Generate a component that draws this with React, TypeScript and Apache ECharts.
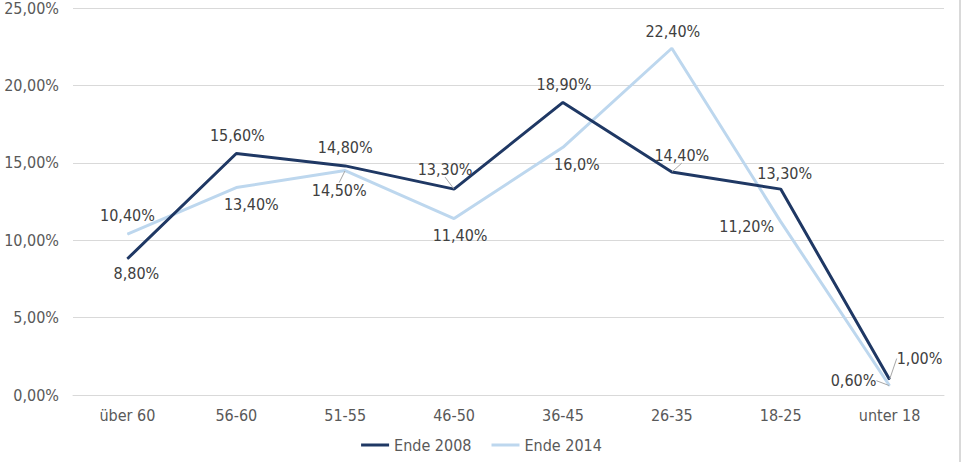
import React, { useEffect, useRef } from "react";
import * as echarts from "echarts";

const categories = ["über 60", "56-60", "51-55", "46-50", "36-45", "26-35", "18-25", "unter 18"];
const values2008 = [8.8, 15.6, 14.8, 13.3, 18.9, 14.4, 13.3, 1.0];
const values2014 = [10.4, 13.4, 14.5, 11.4, 16.0, 22.4, 11.2, 0.6];
const labels2008 = ["8,80%", "15,60%", "14,80%", "13,30%", "18,90%", "14,40%", "13,30%", "1,00%"];
const labels2014 = ["10,40%", "13,40%", "14,50%", "11,40%", "16,0%", "22,40%", "11,20%", "0,60%"];
const yTicks = [0, 5, 10, 15, 20, 25];

// label offsets (dx, dy) relative to the point
const off2008 = [[9, 15], [1, -18], [0, -18], [-9, -20], [1, -18], [10, -17], [4, -16], [30, -21]];
const off2014 = [[0, -19], [15, 17], [-6, 20], [6, 17], [14, 17], [1, -17], [-34, 5], [-36, -5]];
const lead2008 = [false, false, false, true, false, true, false, true];
const lead2014 = [false, false, true, false, false, false, false, true];

const FONT = "DejaVu Sans Condensed";

export default function App() {
  const ref = useRef<HTMLDivElement>(null);
  useEffect(() => {
    document.body.style.margin = "0";
    const chart = echarts.init(ref.current!, undefined, { renderer: "svg" });
    const mk = (vals: number[], labs: string[], leads: boolean[]) =>
      vals.map((v, i) => ({
        value: v,
        label: { formatter: labs[i] },
        labelLine: { show: leads[i], lineStyle: { color: "#a6a6a6", width: 1 } },
      }));
    chart.setOption({
      animation: false,
      textStyle: { fontFamily: FONT },
      grid: { left: 73, right: 19, top: 8, bottom: 67 },
      legend: {
        bottom: 4,
        left: "center",
        itemWidth: 28,
        itemHeight: 3,
        itemGap: 20,
        icon: "rect",
        textStyle: { fontFamily: FONT, fontSize: 16, color: "#595959" },
        data: ["Ende 2008", "Ende 2014"],
      },
      xAxis: {
        type: "category",
        data: categories,
        boundaryGap: true,
        axisLine: { show: true, lineStyle: { color: "#d9d9d9", width: 1 } },
        axisTick: { show: false },
        axisLabel: { fontFamily: FONT, fontSize: 16, color: "#595959", margin: 12 },
      },
      yAxis: {
        type: "value",
        min: yTicks[0],
        max: yTicks[yTicks.length - 1],
        interval: 5,
        axisLine: { show: false },
        axisTick: { show: false },
        splitLine: { lineStyle: { color: "#d9d9d9", width: 1 } },
        axisLabel: {
          fontFamily: FONT,
          fontSize: 16,
          color: "#595959",
          margin: 14,
          formatter: (v: number) => v.toFixed(2).replace(".", ",") + "%",
        },
      },
      series: [
        {
          name: "Ende 2008",
          type: "line",
          data: mk(values2008, labels2008, lead2008),
          symbol: "circle",
          symbolSize: 1,
          showSymbol: true,
          lineStyle: { color: "#1f3864", width: 3 },
          itemStyle: { color: "#1f3864" },
          label: { show: true, position: "inside", fontFamily: FONT, fontSize: 16, color: "#404040" },
          labelLayout: (p: any) => ({ dx: off2008[p.dataIndex][0], dy: off2008[p.dataIndex][1] }),
          z: 3,
        },
        {
          name: "Ende 2014",
          type: "line",
          data: mk(values2014, labels2014, lead2014),
          symbol: "circle",
          symbolSize: 1,
          showSymbol: true,
          lineStyle: { color: "#bdd7ee", width: 3 },
          itemStyle: { color: "#bdd7ee" },
          label: { show: true, position: "inside", fontFamily: FONT, fontSize: 16, color: "#404040" },
          labelLayout: (p: any) => ({ dx: off2014[p.dataIndex][0], dy: off2014[p.dataIndex][1] }),
          z: 2,
        },
      ],
      graphic: [
        {
          type: "line",
          shape: { x1: 960, y1: 0, x2: 960, y2: 462 },
          style: { stroke: "#d9d9d9", lineWidth: 2 },
        },
      ],
    });
    return () => chart.dispose();
  }, []);
  return <div ref={ref} style={{ position: "absolute", left: 0, top: 0, width: 963, height: 462 }} />;
}
